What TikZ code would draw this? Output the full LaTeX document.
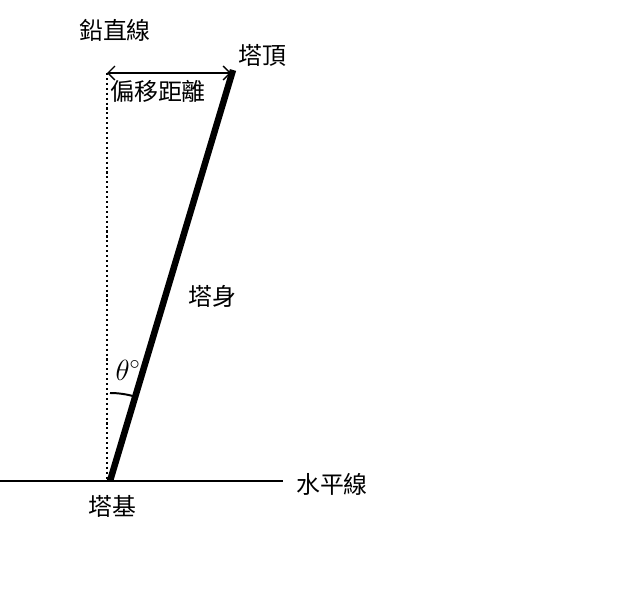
\documentclass[tikz,border=0pt]{standalone}
\usepackage{amsmath}
\usepackage{fontspec}
\newfontfamily\cjk{Noto Sans CJK TC}
\usetikzlibrary{arrows.meta}
\usetikzlibrary{arrows}

\begin{document}
\begin{tikzpicture}[x=0.025cm,y=-0.025cm]
  \tikzset{label/.style = {inner sep=1pt,font=\cjk\fontsize{17}{20}\selectfont}}
  \tikzset{tower/.style = {line width=4.6pt}}
  \useasboundingbox (0,0) rectangle (631,599);

	\coordinate (base) at (110,481);
	\coordinate (top) at (233,70);
	\coordinate (vtop) at (107,73);
	\coordinate (vbot) at (107,481);
	\coordinate (hleft) at (0,481);
	\coordinate (hright) at (283,481);
	\coordinate (atop) at (231,73);

	\node[label] (vert) at (115,30) {鉛直線};
	\node[label] (toplbl) at (262,55) {塔頂};
	\node[label] (offset) at (158,91) {偏移距離};
	\node[label] (body) at (212,296) {塔身};
	\node[label] (baselbl) at (112,506) {塔基};
	\node[label] (horiz) at (332,484) {水平線};
	\node[inner sep=1pt,font=\fontsize{21}{23}\selectfont] (theta) at (128,370) {$\theta^\circ$};

	\draw[line width=1.3pt] (hleft) -- (hright);
	\draw[line width=1.5pt,dash pattern=on 1.5pt off 2pt] (vtop) -- (vbot);
	\draw[line width=0.9pt,{Straight Barb[length=5pt,width=10pt]}-{Straight Barb[length=5pt,width=10pt]}] (vtop) -- (atop);
	\draw[line width=1.4pt] (base) ++(270:88) arc (270:286.7:88);
	\draw[tower] (base) -- (top);
\end{tikzpicture}
\end{document}
